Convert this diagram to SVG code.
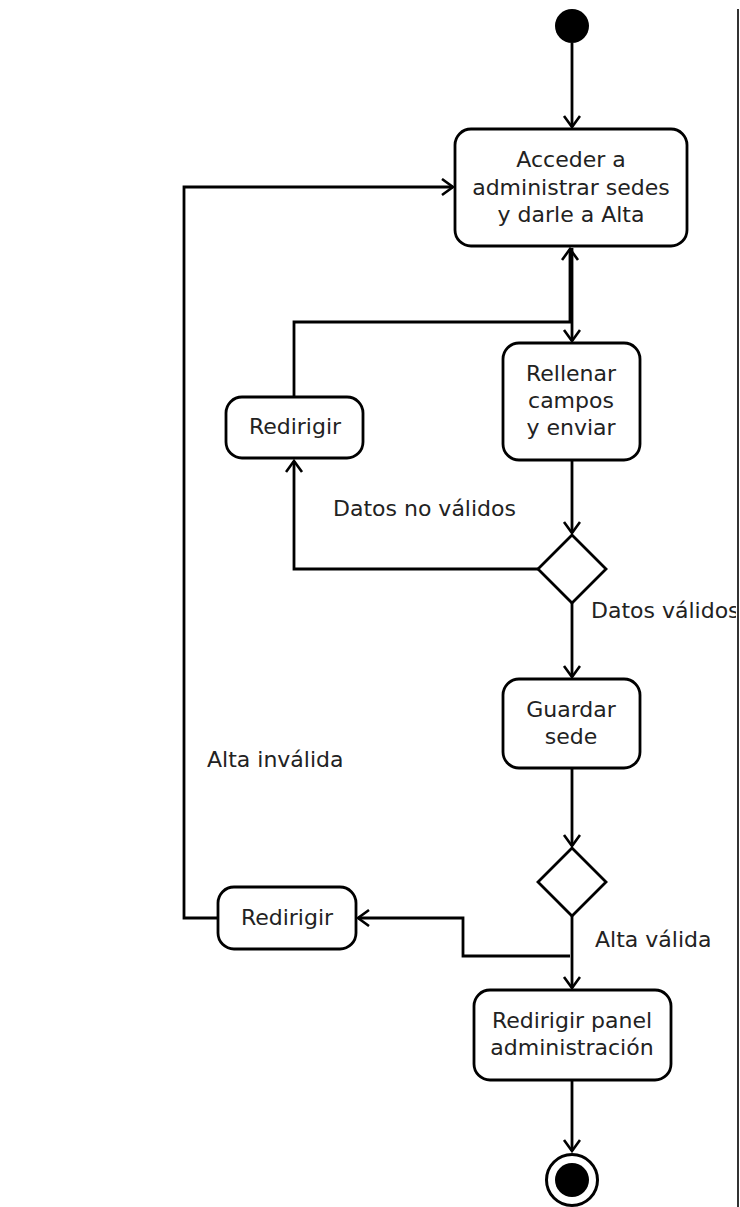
<svg xmlns="http://www.w3.org/2000/svg" width="740" height="1207" viewBox="0 0 740 1207">
<defs>
<style>
.box{fill:#fff;stroke:#000;stroke-width:2.8}
.dia{fill:#fff;stroke:#000;stroke-width:2.8}
.t{font-family:"DejaVu Sans",sans-serif;font-size:22px;fill:#222;text-anchor:middle}
.lbl{font-family:"DejaVu Sans",sans-serif;font-size:22px;fill:#222}
.c{fill:none;stroke:#000;stroke-width:2.8;marker-end:url(#arr)}
</style>
<marker id="arr" markerWidth="22" markerHeight="22" refX="12" refY="9" orient="auto" markerUnits="userSpaceOnUse">
<path d="M1,1 L12,9 L1,17" fill="none" stroke="#000" stroke-width="2.6"/>
</marker>
<clipPath id="clipR"><rect x="0" y="0" width="736" height="1207"/></clipPath>
</defs>
<rect width="740" height="1207" fill="#fff"/>
<g id="connectors">
<path class="c" d="M572,43 L572,127"/>
<path class="c" d="M572,248 L572,341"/>
<path class="c" d="M294,397 L294,322 L570,322 L570,249"/>
<path class="c" d="M572,461 L572,533"/>
<path class="c" d="M538,569 L294,569 L294,461"/>
<path class="c" d="M572,603 L572,677"/>
<path class="c" d="M572,769 L572,846"/>
<path class="c" d="M572,916 L572,988"/>
<path class="c" d="M570,956 L463,956 L463,918 L358,918"/>
<path class="c" d="M218,918 L184,918 L184,187 L453,187"/>
<path class="c" d="M572,1080 L572,1151"/>
</g>
<g id="start"><circle cx="572" cy="26" r="17" fill="#000"/></g>
<g id="acceder">
<rect class="box" x="455" y="129" width="232" height="117" rx="16"/>
<text class="t" x="571" y="167">Acceder a</text>
<text class="t" x="571" y="195">administrar sedes</text>
<text class="t" x="571" y="222">y darle a Alta</text>
</g>
<g id="redirigir1">
<rect class="box" x="226" y="397" width="137" height="61" rx="16"/>
<text class="t" x="295" y="434">Redirigir</text>
</g>
<g id="rellenar">
<rect class="box" x="503" y="343" width="137" height="117" rx="16"/>
<text class="t" x="571" y="381">Rellenar</text>
<text class="t" x="571" y="408">campos</text>
<text class="t" x="571" y="435">y enviar</text>
</g>
<g id="decision1"><path class="dia" d="M572,535 L606,569 L572,603 L538,569 Z"/></g>
<g id="guardar">
<rect class="box" x="503" y="679" width="137" height="89" rx="16"/>
<text class="t" x="571" y="717">Guardar</text>
<text class="t" x="571" y="744">sede</text>
</g>
<g id="decision2"><path class="dia" d="M572,848 L606,882 L572,916 L538,882 Z"/></g>
<g id="redirigir2">
<rect class="box" x="218" y="887" width="138" height="62" rx="16"/>
<text class="t" x="287" y="925">Redirigir</text>
</g>
<g id="panel">
<rect class="box" x="474" y="990" width="197" height="90" rx="16"/>
<text class="t" x="572" y="1028">Redirigir panel</text>
<text class="t" x="572" y="1055">administración</text>
</g>
<g id="end">
<circle cx="572" cy="1180" r="25.5" fill="#fff" stroke="#000" stroke-width="3"/>
<circle cx="572" cy="1180" r="17" fill="#000"/>
</g>
<g id="labels" clip-path="url(#clipR)">
<text class="lbl" x="333" y="516">Datos no válidos</text>
<text class="lbl" x="591" y="618">Datos válidos</text>
<text class="lbl" x="207" y="767">Alta inválida</text>
<text class="lbl" x="595" y="947">Alta válida</text>
</g>
<line x1="738" y1="9" x2="738" y2="1207" stroke="#333" stroke-width="2"/>
</svg>
